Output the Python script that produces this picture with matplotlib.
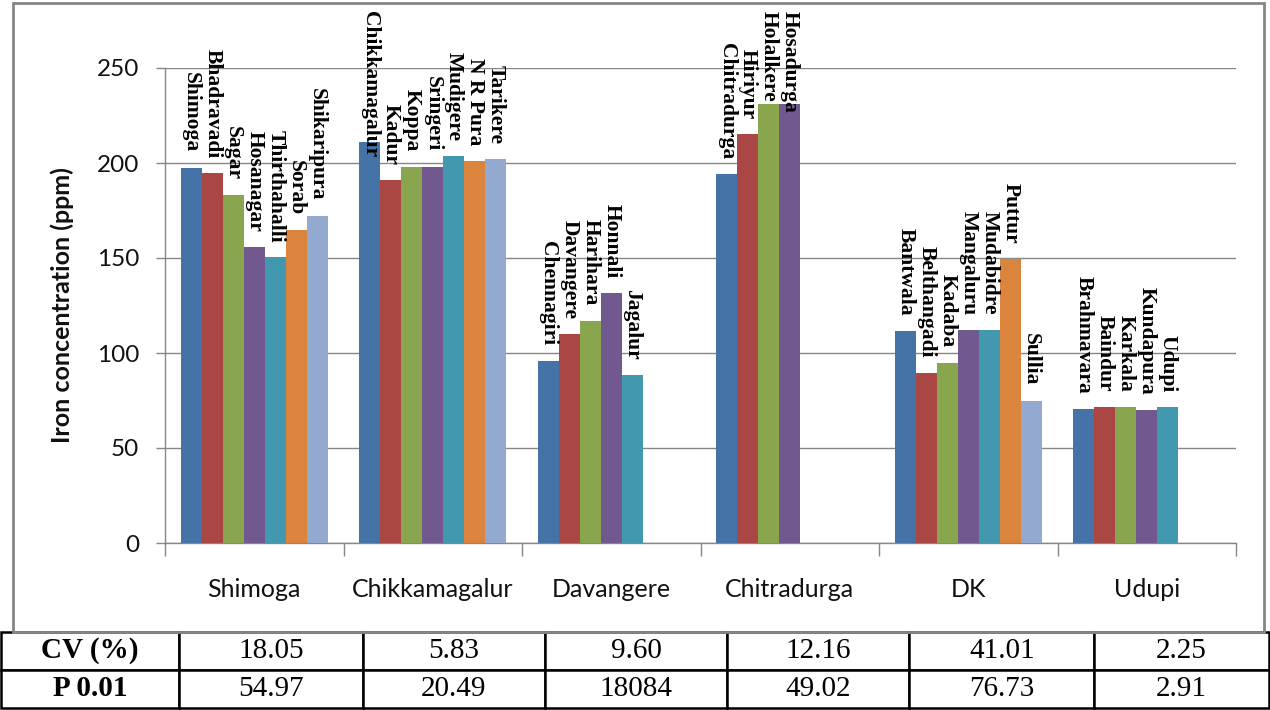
import numpy as np
import matplotlib
matplotlib.use("Agg")
import matplotlib.pyplot as plt
from matplotlib.patches import Rectangle

# district groups along the x axis
districts = ["Shimoga", "Chikkamagalur", "Davangere", "Chitradurga", "DK", "Udupi"]

# taluk names and iron values (ppm) per district, in series order
taluks = [
    ["Shimoga", "Bhadravadi", "Sagar", "Hosanagar", "Thirthahalli", "Sorab", "Shikaripura"],
    ["Chikkamagalur", "Kadur", "Koppa", "Sringeri", "Mudigere", "N R Pura", "Tarikere"],
    ["Chennagiri", "Davangere", "Harihara", "Honnali", "Jagalur"],
    ["Chitradurga", "Hiriyur", "Holalkere", "Hosadurga"],
    ["Bantwala", "Belthangadi", "Kadaba", "Mangaluru", "Mudabidre", "Puttur", "Sullia"],
    ["Brahmavara", "Baindur", "Karkala", "Kundapura", "Udupi"],
]
iron = [
    [197.4, 194.7, 183.0, 155.8, 150.3, 164.5, 172.0],
    [211.0, 191.0, 198.0, 198.0, 203.5, 201.0, 202.0],
    [96.0, 110.0, 117.0, 131.5, 88.5],
    [194.0, 215.0, 231.0, 231.0],
    [111.5, 89.5, 95.0, 112.0, 112.0, 149.5, 75.0],
    [70.5, 71.5, 71.5, 70.0, 71.5],
]

# statistics table under the chart
row_labels = ["CV (%)", "P 0.01"]
cv = ["18.05", "5.83", "9.60", "12.16", "41.01", "2.25"]
p001 = ["54.97", "20.49", "18084", "49.02", "76.73", "2.91"]

colors = ["#4572A7", "#AA4643", "#89A54E", "#71588F", "#4198AF", "#DB843D", "#93A9CF"]
grey = "#868686"
ink = "#111111"
sans = ["Lato", "DejaVu Sans"]
serif = ["Liberation Serif", "DejaVu Serif"]

W, H, DPI = 1270, 710, 100
GAP = 11  # points between bar top and its label


def make_figure():
    fig = plt.figure(figsize=(W / DPI, H / DPI), dpi=DPI)
    fig.patches.append(Rectangle((13 / W, (H - 632) / H), (1264 - 13) / W, (632 - 3) / H,
                                 transform=fig.transFigure, fill=False,
                                 edgecolor=grey, linewidth=2, zorder=0))
    return fig


def plot_bars(fig):
    ax = fig.add_axes([165 / W, (H - 543) / H, (1236 - 165) / W, (543 - 68) / H])
    bw = 21 / 178.5
    nmax = 7
    labels = []
    for i, (names, vals) in enumerate(zip(taluks, iron)):
        for k, (name, v) in enumerate(zip(names, vals)):
            x = i - nmax * bw / 2 + (k + 0.5) * bw
            ax.bar(x, v, width=bw, color=colors[k], zorder=3)
            t = ax.annotate(name, xy=(x, v), xytext=(0, GAP), textcoords="offset points",
                            rotation=270, ha="center", va="bottom", fontsize=15.5,
                            fontweight="bold", family=serif, color="black",
                            annotation_clip=False, zorder=4)
            labels.append(t)

    ax.set_xlim(-0.5, len(districts) - 0.5)
    ax.set_ylim(0, 250)
    ax.set_yticks(np.arange(0, 251, 50))
    ax.yaxis.grid(True, color=grey, linewidth=1, zorder=0)
    ax.set_axisbelow(True)
    for s in ["top", "right"]:
        ax.spines[s].set_visible(False)
    for s in ["left", "bottom"]:
        ax.spines[s].set_color(grey)
        ax.spines[s].set_linewidth(1)

    ax.set_xticks(np.arange(len(districts)))
    ax.set_xticklabels(districts)
    ax.set_xticks(np.arange(-0.5, len(districts)), minor=True)
    ax.tick_params(axis="x", which="major", length=0, pad=25, labelsize=18, labelcolor=ink)
    ax.tick_params(axis="x", which="minor", length=9, width=1, color=grey)
    ax.tick_params(axis="y", length=6.5, width=1, color=grey, pad=12, labelsize=17.5,
                   labelcolor=ink)
    for lab in ax.get_xticklabels() + ax.get_yticklabels():
        lab.set_family(sans)

    fig.text(62 / W, 1 - 305 / H, "Iron concentration (ppm)", rotation=90, ha="center",
             va="center", fontsize=18, fontweight="bold", family=sans, color=ink)

    # keep labels inside the chart box, like the spreadsheet does
    fig.canvas.draw()
    r = fig.canvas.get_renderer()
    limit = H - 11
    for t in labels:
        bb = t.get_window_extent(r)
        if bb.y1 > limit:
            shift = (bb.y1 - limit) * 72 / DPI
            t.xyann = (0, GAP - shift)
    return ax


def plot_table(fig):
    tax = fig.add_axes([0.0008, 2 / H, 0.9984, (708 - 632) / H])
    tax.axis("off")
    cells = [[row_labels[0]] + cv, [row_labels[1]] + p001]
    widths = np.array([178, 184, 182, 183, 182, 185, 175], dtype=float)
    tbl = tax.table(cellText=cells, cellLoc="center", bbox=[0, 0, 1, 1],
                    colWidths=list(widths / widths.sum()))
    tbl.auto_set_font_size(False)
    tbl.set_fontsize(21)
    for (r, c), cell in tbl.get_celld().items():
        cell.set_linewidth(1.8)
        cell.set_edgecolor("black")
        cell.get_text().set_family(serif)
        cell.get_text().set_fontweight("bold" if c == 0 else "normal")


def main():
    fig = make_figure()
    plot_bars(fig)
    plot_table(fig)
    fig.savefig("out.png", dpi=DPI)


if __name__ == "__main__":
    main()
